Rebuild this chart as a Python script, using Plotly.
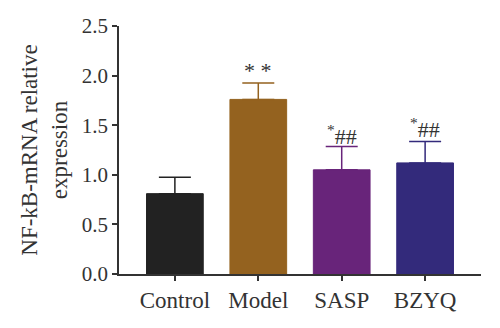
import plotly.graph_objects as go

categories = ["Control", "Model", "SASP", "BZYQ"]
means = [0.81, 1.76, 1.05, 1.12]
errors = [0.165, 0.165, 0.235, 0.215]
colors = ["#222222", "#94621F", "#68247A", "#332A7B"]
labels = ["", "* *", "<sup>*</sup>##", "<sup>*</sup>##"]
label_y = [None, 2.05, 1.40, 1.47]
y_ticks = [0.0, 0.5, 1.0, 1.5, 2.0, 2.5]

FONT = "Liberation Serif, Times New Roman, serif"
TXT = "#333333"

fig = go.Figure()
for c, m, e, col in zip(categories, means, errors, colors):
    fig.add_trace(go.Bar(
        x=[c], y=[m],
        marker=dict(color=col, line=dict(color=col, width=1)),
        width=0.68,
        error_y=dict(type="data", array=[e], arrayminus=[0], symmetric=False,
                     color=col, thickness=1.5, width=16),
        showlegend=False,
    ))

for c, t, yv in zip(categories, labels, label_y):
    if t:
        fig.add_annotation(x=c, y=yv, text=t, showarrow=False,
                           font=dict(family=FONT, size=22, color=TXT),
                           yanchor="middle")

fig.update_layout(
    width=500, height=328,
    margin=dict(l=119, r=19, t=26, b=54),
    paper_bgcolor="white", plot_bgcolor="white",
    font=dict(family=FONT, size=22, color=TXT),
)
fig.update_xaxes(
    range=[-0.67, 3.67], showline=True, linecolor="#333333", linewidth=1.5,
    ticks="outside", ticklen=5, tickcolor="#333333", tickwidth=1.5,
    tickfont=dict(family=FONT, size=23, color=TXT), showgrid=False,
)
fig.update_yaxes(
    range=[0, 2.5], tickvals=y_ticks, ticktext=[f"{v:.1f}" for v in y_ticks],
    showline=True, linecolor="#333333", linewidth=1.5,
    ticks="outside", ticklen=5, tickcolor="#333333", tickwidth=1.5,
    tickfont=dict(family=FONT, size=21, color=TXT), showgrid=False, zeroline=False,
    title=dict(text="NF-kB-mRNA relative<br>expression",
               font=dict(family=FONT, size=23, color=TXT), standoff=8),
)

fig.write_html("out.html")
